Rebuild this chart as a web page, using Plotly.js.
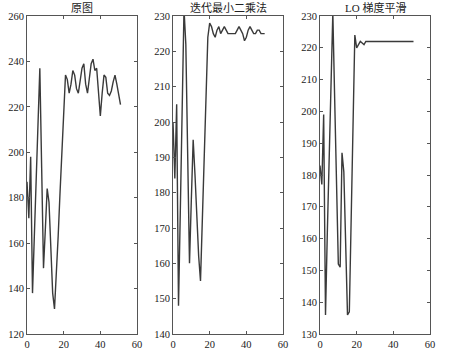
<!DOCTYPE html>
<html><head><meta charset="utf-8">
<script src="https://cdn.plot.ly/plotly-3.0.1.min.js"></script>
<style>html,body{margin:0;padding:0;background:#fff}#c{width:450px;height:353px}</style>
</head><body><div id="c"></div>
<script>
const titles = ["原图", "迭代最小二乘法", "LO 梯度平滑"];
const original = [187,171,198,138,163,188,212,237,193,149,166,184,178,160,138,131,145,163,182,200,218,234,232,226,230,236,234,228,226,231,237,239,230,226,233,239,241,236,237,226,216,226,234,233,226,225,227,231,234,230,225,221];
const ilsValues = [200,184,205,148,175,202,232,222,190,160,178,195,185,172,162,155,172,192,212,224,228,227,225,224,226,227,225,226,227,226,225,225,225,225,225,226,227,226,225,223,224,226,227,226,225,225,226,226,225,225,225];
const l0Values = [183,177,199,136,162,188,214,231,204,177,152,151,187,181,158,136,137,165,195,224,220,221,222,221.5,221,222,222,222,222,222,222,222,222,222,222,222,222,222,222,222,222,222,222,222,222,222,222,222,222,222,222,222];
const xTicks = [0,20,40,60];
const yRanges = [[120,260],[140,230],[130,230]];
const yDticks = [20,10,10];

const series = [original, ilsValues, l0Values];
const xDomains = [[27/450,137/450],[173/450,283/450],[320/450,430/450]];
const yDomain = [1-334/353, 1-16/353];
const font = {family:"Liberation Serif, Times New Roman, serif", size:10.5, color:"#222"};

const data = series.map((vals,i)=>({
  x: vals.map((_,k)=>k), y: vals, type:'scatter', mode:'lines',
  xaxis: i===0?'x':'x'+(i+1), yaxis: i===0?'y':'y'+(i+1),
  line:{color:'#3a3a3a', width:1.4}, showlegend:false, hoverinfo:'skip'
}));

const layout = {
  width:450, height:353, margin:{l:0,r:0,t:0,b:0},
  paper_bgcolor:'#fff', plot_bgcolor:'#fff', font:font, showlegend:false,
  annotations: titles.map((t,i)=>({
    text:t, xref:'paper', yref:'paper',
    x:(xDomains[i][0]+xDomains[i][1])/2, y:1-8/353, xanchor:'center', yanchor:'middle',
    showarrow:false, font:{family:"Liberation Serif, Noto Sans CJK SC, serif", size:11, color:'#222'}
  }))
};
for (let i=0;i<3;i++){
  const s = i===0?'':String(i+1);
  layout['xaxis'+s] = {domain:xDomains[i], anchor:'y'+s, range:[0,60], tickvals:xTicks, ticktext:xTicks.map(String),
    showgrid:false, zeroline:false, showline:true, mirror:'ticks', linecolor:'#555', linewidth:1,
    ticks:'inside', ticklen:3, tickcolor:'#555', tickfont:font, fixedrange:true};
  layout['yaxis'+s] = {domain:yDomain, anchor:'x'+s, range:yRanges[i], dtick:yDticks[i], tick0:0,
    showgrid:false, zeroline:false, showline:true, mirror:'ticks', linecolor:'#555', linewidth:1,
    ticks:'inside', ticklen:3, tickcolor:'#555', tickfont:font, fixedrange:true};
}
Plotly.newPlot('c', data, layout, {displayModeBar:false, staticPlot:true});
</script></body></html>
